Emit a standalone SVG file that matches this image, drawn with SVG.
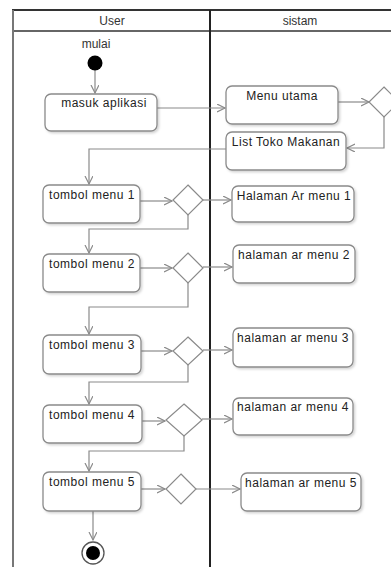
<svg xmlns="http://www.w3.org/2000/svg" width="391" height="567" viewBox="0 0 391 567">
<defs>
<style>
.lane{fill:none;stroke:#333;stroke-width:1.5}
.act{fill:#fff;stroke:#8a8a8a;stroke-width:1.3;filter:url(#sh)}
.dec{fill:#fff;stroke:#8a8a8a;stroke-width:1.2}
.t{font-family:"Liberation Sans",Arial,sans-serif;font-size:12px;fill:#222;letter-spacing:0.5px;text-anchor:middle}
.h{font-family:"Liberation Sans",Arial,sans-serif;font-size:12px;fill:#333;text-anchor:middle}
.c{fill:none;stroke:#8a8a8a;stroke-width:1.2;marker-end:url(#ar)}
</style>
<marker id="ar" markerWidth="10" markerHeight="10" refX="8" refY="4" orient="auto" markerUnits="userSpaceOnUse">
<path d="M0,0 L8,4 L0,8" fill="none" stroke="#8a8a8a" stroke-width="1.2"/>
</marker>
<filter id="sh" x="-10%" y="-10%" width="130%" height="140%">
<feDropShadow dx="1.5" dy="1.5" stdDeviation="1.2" flood-color="#000" flood-opacity="0.18"/>
</filter>
</defs>
<rect width="391" height="567" fill="#fff"/>
<g id="swimlanes">
<line x1="12" y1="10" x2="391" y2="10" stroke="#333" stroke-width="2"/>
<line x1="12" y1="31" x2="391" y2="31" stroke="#333" stroke-width="1.5"/>
<line x1="13" y1="10" x2="13" y2="567" stroke="#777" stroke-width="2"/>
<line x1="210" y1="10" x2="210" y2="567" stroke="#222" stroke-width="2"/>
<text class="h" x="112" y="25">User</text>
<text class="h" x="300" y="25">sistam</text>
</g>
<g id="connectors">
<line class="c" x1="95" y1="70" x2="95" y2="93"/>
<line class="c" x1="157" y1="108" x2="225" y2="108"/>
<line class="c" x1="338" y1="102" x2="369" y2="102"/>
<polyline class="c" points="384,117 384,148 347,148"/>
<polyline class="c" points="226,149 89,149 89,184"/>
<line class="c" x1="140" y1="201" x2="172" y2="201"/>
<line class="c" x1="203" y1="200" x2="231" y2="200"/>
<polyline class="c" points="188,215 188,229 89,229 89,253"/>
<line class="c" x1="140" y1="268" x2="172" y2="268"/>
<line class="c" x1="203" y1="267" x2="232" y2="267"/>
<polyline class="c" points="188,283 188,307 89,307 89,334"/>
<line class="c" x1="141" y1="351" x2="172" y2="351"/>
<line class="c" x1="203" y1="350" x2="232" y2="350"/>
<polyline class="c" points="188,365 188,382 89,382 89,404"/>
<line class="c" x1="142" y1="421" x2="165" y2="421"/>
<line class="c" x1="202" y1="419" x2="232" y2="419"/>
<polyline class="c" points="184,436 184,451 89,451 89,471"/>
<line class="c" x1="141" y1="489" x2="165" y2="489"/>
<line class="c" x1="196" y1="489" x2="240" y2="489"/>
<line class="c" x1="93" y1="511" x2="93" y2="540"/>
</g>
<g id="start">
<text class="h" x="96" y="48" font-size="11">mulai</text>
<circle cx="95" cy="63" r="7.5" fill="#000"/>
</g>
<g id="masuk-aplikasi"><rect class="act" x="45" y="94" width="112" height="37" rx="6"/><text class="t" x="104" y="107">masuk aplikasi</text></g>
<g id="menu-utama"><rect class="act" x="226" y="86" width="112" height="38" rx="6"/><text class="t" x="282" y="100">Menu utama</text></g>
<g id="dec0"><polygon class="dec" points="384,87 399,102 384,117 369,102"/></g>
<g id="list-toko"><rect class="act" x="226" y="132" width="120" height="38" rx="6"/><text class="t" x="286" y="146">List Toko Makanan</text></g>
<g id="tombol1"><rect class="act" x="43" y="185" width="97" height="38" rx="6"/><text class="t" x="92" y="199">tombol menu 1</text></g>
<g id="dec1"><polygon class="dec" points="188,185 203,200 188,215 173,200"/></g>
<g id="halaman1"><rect class="act" x="232" y="186" width="122" height="36" rx="6"/><text class="t" x="294" y="200">Halaman Ar menu 1</text></g>
<g id="tombol2"><rect class="act" x="43" y="254" width="97" height="38" rx="6"/><text class="t" x="92" y="268">tombol menu 2</text></g>
<g id="dec2"><polygon class="dec" points="188,253 203,268 188,283 173,268"/></g>
<g id="halaman2"><rect class="act" x="233" y="245" width="122" height="38" rx="6"/><text class="t" x="294" y="259">halaman ar menu 2</text></g>
<g id="tombol3"><rect class="act" x="43" y="335" width="98" height="39" rx="6"/><text class="t" x="92" y="349">tombol menu 3</text></g>
<g id="dec3"><polygon class="dec" points="188,337 203,351 188,365 173,351"/></g>
<g id="halaman3"><rect class="act" x="233" y="328" width="120" height="39" rx="6"/><text class="t" x="293" y="342">halaman ar menu 3</text></g>
<g id="tombol4"><rect class="act" x="43" y="405" width="99" height="38" rx="6"/><text class="t" x="92" y="419">tombol menu 4</text></g>
<g id="dec4"><polygon class="dec" points="184,404 202,420 184,436 166,420"/></g>
<g id="halaman4"><rect class="act" x="233" y="398" width="120" height="37" rx="6"/><text class="t" x="293" y="411">halaman ar menu 4</text></g>
<g id="tombol5"><rect class="act" x="43" y="472" width="98" height="39" rx="6"/><text class="t" x="92" y="486">tombol menu 5</text></g>
<g id="dec5"><polygon class="dec" points="181,474 196,489 181,504 166,489"/></g>
<g id="halaman5"><rect class="act" x="241" y="473" width="120" height="38" rx="6"/><text class="t" x="301" y="487">halaman ar menu 5</text></g>
<g id="end">
<circle cx="93" cy="553" r="11" fill="#fff" stroke="#555" stroke-width="1.3"/>
<circle cx="93" cy="553" r="7" fill="#000"/>
</g>
</svg>
